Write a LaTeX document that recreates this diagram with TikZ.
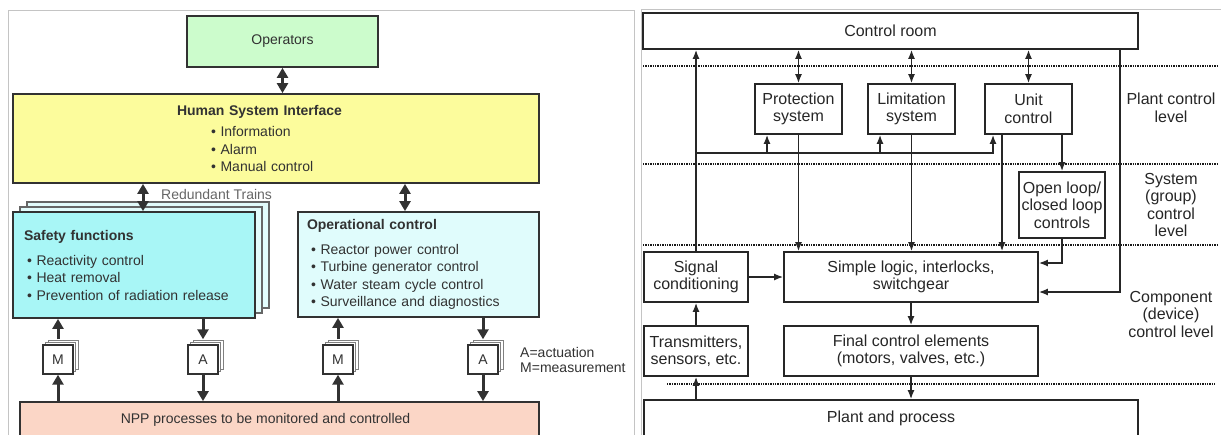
\documentclass[tikz,border=0pt]{standalone}
\usepackage{fontspec}
\setmainfont{Liberation Sans}
\usepackage{xcolor}
\usepackage{tikz}
\usetikzlibrary{calc, arrows.meta, shadows}

\definecolor{opsgreen}{RGB}{204,252,204}
\definecolor{hsiyellow}{RGB}{252,252,156}
\definecolor{safecyan}{RGB}{168,246,246}
\definecolor{safeback}{RGB}{226,252,252}
\definecolor{opcyan}{RGB}{224,252,252}
\definecolor{nppsalmon}{RGB}{251,214,198}
\definecolor{boxline}{RGB}{50,50,50}
\definecolor{framegray}{RGB}{196,196,196}

\newcommand{\lfont}{\fontsize{14}{17.5}\selectfont}
\newcommand{\rfont}{\fontsize{16}{17.5}\selectfont}

\begin{document}
\begin{tikzpicture}[x=1pt, y=-1pt,
    lbox/.style={draw=boxline, line width=1.8pt, inner sep=0pt, font=\lfont, text=boxline},
    mabox/.style={draw=boxline, line width=1.4pt, fill=white, inner sep=0pt, minimum width=30pt, minimum height=29pt, font=\lfont, text=boxline,
        double copy shadow={shadow xshift=2.5pt, shadow yshift=2.5pt, draw=gray, fill=white, line width=1pt}},
    fatarrow/.style={line width=3pt, draw=boxline, -{Triangle[length=10pt,width=11pt]}},
    fatboth/.style={line width=3pt, draw=boxline, {Triangle[length=10pt,width=11pt]}-{Triangle[length=10pt,width=11pt]}},
    rbox/.style={draw=black!85, line width=1.8pt, inner sep=0pt, align=center, font=\rfont, text=black!85},
    rarrow/.style={line width=1.4pt, draw=black!85, -{Latex[length=9pt,width=7pt]}},
    rboth/.style={line width=1.4pt, draw=black!85, {Latex[length=9pt,width=7pt]}-{Latex[length=9pt,width=7pt]}},
    levelline/.style={line width=1.2pt, draw=black!90, dash pattern=on 1.3pt off 1.1pt},
    lvltext/.style={font=\rfont, align=center, text=black!85, inner sep=0pt},
    ]
    \useasboundingbox (0,0) rectangle (1221,434);

    %% Frames
    \draw[framegray, line width=1pt] (8,10) rectangle (634,445);
    \draw[framegray, line width=1pt] (641,9) rectangle (1230,445);

    %% Operators and HSI
    \node (ops) [lbox, fill=opsgreen, minimum width=191pt, minimum height=51pt] at (282.5,41.5) {Operators};
    \node (hsi) [lbox, fill=hsiyellow, minimum width=526pt, minimum height=89pt, text width=198pt, align=left] at (276,138.5)
        {\textbf{Human System Interface}\\[3.5pt]
         \hspace*{34pt}\textbullet\ Information\\
         \hspace*{34pt}\textbullet\ Alarm\\
         \hspace*{34pt}\textbullet\ Manual control};
    \node (trains) [anchor=west, font=\lfont, text=black!60, inner sep=0pt] at (161,194) {Redundant Trains};

    %% Safety functions and operational control
    \node (safety) [lbox, fill=safecyan, minimum width=242pt, minimum height=106pt, text width=220pt, align=left,
        double copy shadow={shadow xshift=7pt, shadow yshift=5pt, draw=gray!80!black, fill=safeback, line width=1.2pt}] at (134,265)
        {\textbf{Safety functions}\\[7.5pt]
         \hspace*{3pt}\textbullet\ Reactivity control\\
         \hspace*{3pt}\textbullet\ Heat removal\\
         \hspace*{3pt}\textbullet\ Prevention of radiation release};
    \node (opctrl) [lbox, fill=opcyan, minimum width=241pt, minimum height=105pt, text width=223pt, align=left] at (418.5,264.5)
        {\textbf{Operational control}\\[7.5pt]
         \hspace*{4pt}\textbullet\ Reactor power control\\
         \hspace*{4pt}\textbullet\ Turbine generator control\\
         \hspace*{4pt}\textbullet\ Water steam cycle control\\
         \hspace*{4pt}\textbullet\ Surveillance and diagnostics};

    %% Measurement / actuation
    \node (m1) [mabox] at (58,359.5) {M};
    \node (a1) [mabox] at (203,359.5) {A};
    \node (m2) [mabox] at (338,359.5) {M};
    \node (a2) [mabox] at (483,359.5) {A};
    \node (legend) [anchor=west, align=left, font=\fontsize{14}{15.5}\selectfont, text=boxline, inner sep=0pt] at (520,360) {A=actuation\\M=measurement};

    %% NPP processes
    \node (npp) [lbox, fill=nppsalmon, minimum width=519pt, minimum height=36pt] at (279.5,420)
        {\hspace*{-28pt}NPP processes to be monitored and controlled};

    %% Left arrows
    \draw[fatboth] (ops.south) -- (ops.south |- hsi.north);
    \draw[fatboth] ([xshift=9pt]safety.north |- hsi.south) -- ([xshift=9pt]safety.north);
    \draw[fatboth] ([xshift=-13.5pt]opctrl.north |- hsi.south) -- ([xshift=-13.5pt]opctrl.north);
    \draw[fatarrow] ([yshift=5pt]m1.north) -- (m1.north |- safety.south);
    \draw[fatarrow] (m1.south |- npp.north) -- (m1.south);
    \draw[fatarrow] (a1.north |- safety.south) -- ([yshift=5pt]a1.north);
    \draw[fatarrow] (a1.south) -- (a1.south |- npp.north);
    \draw[fatarrow] ([yshift=5pt]m2.north) -- (m2.north |- opctrl.south);
    \draw[fatarrow] (m2.south |- npp.north) -- (m2.south);
    \draw[fatarrow] (a2.north |- opctrl.south) -- ([yshift=5pt]a2.north);
    \draw[fatarrow] (a2.south) -- (a2.south |- npp.north);

    %% Level lines
    \draw[levelline] (643,66) -- (1217,66);
    \draw[levelline] (643,164) -- (1217,164);
    \draw[levelline] (643,245) -- (1217,245);
    \draw[levelline] (667,384) -- (1215,384);

    %% Right boxes
    \node (ctrlroom) [rbox, minimum width=495pt, minimum height=36pt] at (890.5,31) {Control room};
    \node (protect) [rbox, minimum width=87pt, minimum height=50pt] at (798.5,109) {Protection\\system};
    \node (limit) [rbox, minimum width=87pt, minimum height=50pt] at (911.5,109) {Limitation\\system};
    \node (unit) [rbox, minimum width=87pt, minimum height=50pt] at (1028.5,109) {Unit\\control};
    \node (openloop) [rbox, minimum width=86pt, minimum height=66pt] at (1062,205) {Open loop/\\closed loop\\controls};
    \node (sigcond) [rbox, minimum width=104pt, minimum height=50pt] at (696,277) {Signal\\conditioning};
    \node (logic) [rbox, minimum width=254pt, minimum height=50pt] at (911,277) {Simple logic, interlocks,\\switchgear};
    \node (transm) [rbox, minimum width=104pt, minimum height=50pt] at (696,351) {Transmitters,\\sensors, etc.};
    \node (final) [rbox, minimum width=254pt, minimum height=50pt] at (911,351) {Final control elements\\(motors, valves, etc.)};
    \node (plant) [rbox, minimum width=494pt, minimum height=36pt] at (891,418) {Plant and process};

    %% Level names
    \node (plantlvl) [lvltext] at (1171,108) {Plant control\\level};
    \node (systemlvl) [lvltext] at (1171,205) {System\\(group)\\control\\level};
    \node (complvl) [lvltext] at (1171,314) {Component\\(device)\\control level};

    %% Right arrows
    \coordinate (bus) at (0,153);
    \draw[rarrow] (sigcond.north) -- (sigcond.north |- ctrlroom.south);
    \draw[rarrow] (sigcond.north |- bus) -| ([xshift=-35.5pt]unit.south);
    \draw[rarrow] ([xshift=-31.5pt]protect.south |- bus) -- ([xshift=-31.5pt]protect.south);
    \draw[rarrow] ([xshift=-31.5pt]limit.south |- bus) -- ([xshift=-31.5pt]limit.south);
    \draw[rboth] (protect.north |- ctrlroom.south) -- (protect.north);
    \draw[rboth] (limit.north |- ctrlroom.south) -- (limit.north);
    \draw[rboth] (unit.north |- ctrlroom.south) -- (unit.north);
    \draw[rarrow] (protect.south) -- (protect.south |- logic.north);
    \draw[rarrow] (limit.south) -- (limit.south |- logic.north);
    \draw[rarrow] ([xshift=-26.5pt]unit.south) -- ([xshift=-26.5pt]unit.south |- logic.north);
    \draw[rarrow] (openloop.north |- unit.south) -- (openloop.north);
    \draw[rarrow] (openloop.south) |- ([yshift=14pt]logic.east);
    \draw[rarrow] ([xshift=229.5pt]ctrlroom.south) |- ([yshift=-15pt]logic.east);
    \draw[rarrow] (sigcond) -- (logic);
    \draw[rarrow] (transm) -- (sigcond);
    \draw[rarrow] (logic) -- (final);
    \draw[rarrow] (final.south) -- (final.south |- plant.north);
    \draw[rarrow] (transm.south |- plant.north) -- (transm.south);

\end{tikzpicture}
\end{document}
